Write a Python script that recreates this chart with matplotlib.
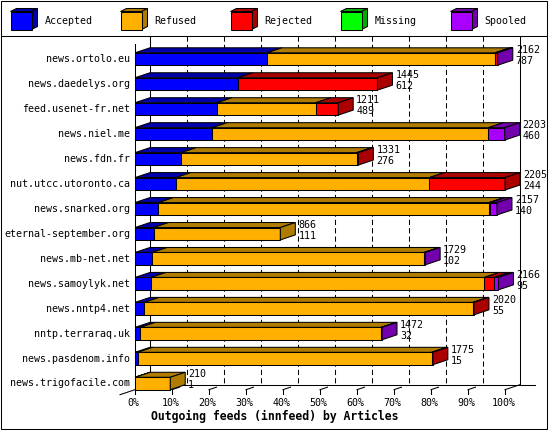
import matplotlib
matplotlib.use('Agg')
import matplotlib.pyplot as plt
from matplotlib.patches import Rectangle, Polygon

# innfeed outgoing feeds, articles per peer
hosts = ['news.ortolo.eu', 'news.daedelys.org', 'feed.usenet-fr.net', 'news.niel.me',
         'news.fdn.fr', 'nut.utcc.utoronto.ca', 'news.snarked.org', 'eternal-september.org',
         'news.mb-net.net', 'news.samoylyk.net', 'news.nntp4.net', 'nntp.terraraq.uk',
         'news.pasdenom.info', 'news.trigofacile.com']
offered = [2162, 1445, 1211, 2203, 1331, 2205, 2157, 866, 1729, 2166, 2020, 1472, 1775, 210]
accepted = [787, 612, 489, 460, 276, 244, 140, 111, 102, 95, 55, 32, 15, 1]
refused = [1358, 0, 588, 1646, 1045, 1510, 1970, 755, 1620, 1987, 1958, 1434, 1753, 209]
rejected = [10, 833, 134, 0, 10, 451, 8, 0, 0, 60, 7, 0, 7, 0]
missing = [0, 0, 0, 0, 0, 0, 0, 0, 0, 0, 0, 0, 0, 0]
spooled = [7, 0, 0, 97, 0, 0, 39, 0, 7, 24, 0, 6, 0, 0]

names = ['Accepted', 'Refused', 'Rejected', 'Missing', 'Spooled']
front = ['#0000FF', '#FFB000', '#FF0000', '#00FF00', '#AA00FF']
dark = ['#0000AA', '#B07C00', '#AA0000', '#00AA00', '#7300AD']
series = [accepted, refused, rejected, missing, spooled]
ticks = [0, 10, 20, 30, 40, 50, 60, 70, 80, 90, 100]

plt.rcParams['font.family'] = 'DejaVu Sans Mono'

# layout (pixels of the 550x430 picture)
W, H = 550, 430
X0, PX_PCT = 135, 3.7         # 0% position, pixels per percent
ROW0, ROW_PX = 59, 24.96      # first row centre, row pitch
DX = 15 / PX_PCT              # 3d depth
DY = 5 / ROW_PX
HH = 6.2 / ROW_PX             # half bar height
LW = 0.75
FS = 7.2

def ry(px):
    return (px - ROW0) / ROW_PX

fig = plt.figure(figsize=(W / 100, H / 100), dpi=100)

# frame + legend
fax = fig.add_axes([0, 0, 1, 1])
fax.set_xlim(0, W)
fax.set_ylim(H, 0)
fax.axis('off')
fax.add_patch(Rectangle((0.5, 0.5), 546, 428, fill=False, ec='black', lw=LW))
fax.plot([0.5, 546.5], [36, 36], color='black', lw=LW)
for i, nm in enumerate(names):
    x = 10.5 + 110 * i
    y0, bw, bh, d, e = 11.5, 21, 18, 6, 3
    fax.add_patch(Polygon([(x, y0), (x + bw, y0), (x + bw + d, y0 - e), (x + d, y0 - e)],
                          closed=True, fc=dark[i], ec='black', lw=LW))
    fax.add_patch(Polygon([(x + bw, y0), (x + bw + d, y0 - e), (x + bw + d, y0 + bh - e),
                           (x + bw, y0 + bh)], closed=True, fc=dark[i], ec='black', lw=LW))
    fax.add_patch(Rectangle((x, y0), bw, bh, fc=front[i], ec='black', lw=LW))
    fax.text(x + 34, 21, nm, fontsize=FS, ha='left', va='center')

fig.text(0.5, 1 - 416.5 / H, 'Outgoing feeds (innfeed) by Articles', fontsize=8.3,
         fontweight='bold', ha='center', va='center')

ax = fig.add_axes([0, 0, 1, 1])
ax.patch.set_visible(False)
ax.set_xlim(-X0 / PX_PCT, (W - X0) / PX_PCT)
ax.set_ylim(ry(H), ry(0))
ax.axis('off')

top = ry(36)
floor_f = len(hosts) - 1 + HH
floor_b = floor_f - DY

# walls, grid, floor
ax.plot([DX, DX], [top, floor_b], color='black', lw=LW, zorder=1)
ax.plot([100 + DX, 100 + DX], [top, floor_b], color='black', lw=LW, zorder=1)
for p in ticks[1:-1]:
    ax.plot([p + DX, p + DX], [top, floor_b], color='black', lw=LW,
            linestyle=(0, (5, 3)), zorder=1)
ax.plot([DX, 100 + 2 * DX], [floor_b, floor_b], color='black', lw=LW, zorder=1)
ax.plot([0, 0], [ry(44), floor_f], color='black', lw=LW, zorder=1)
ax.plot([0, -DX], [floor_f, floor_f + DY], color='black', lw=LW, zorder=1)
ax.plot([100, 100 + DX], [floor_f, floor_b], color='black', lw=LW, zorder=1)
for p in ticks:
    ax.plot([p, p], [floor_f, floor_f + 4 / ROW_PX], color='black', lw=LW, zorder=1)
    if 0 < p < 100:
        ax.plot([p, p + DX / 2], [floor_f, floor_f - DY / 2], color='black', lw=LW, zorder=1)
    ax.text(p - 0.4, ry(402.5), f'{p}%', fontsize=FS, ha='center', va='center')

scale = 100 / max(offered)
for r, host in enumerate(hosts):
    ax.text(-5 / PX_PCT, r, host, fontsize=FS, ha='right', va='center')
    cum = 0
    last = None
    for k, s in enumerate(series):
        v = s[r] * scale
        if v <= 0:
            continue
        x0, x1 = cum, cum + v
        ax.add_patch(Polygon([(x0, r - HH), (x1, r - HH), (x1 + DX, r - HH - DY),
                              (x0 + DX, r - HH - DY)], closed=True, fc=dark[k],
                             ec='black', lw=LW, zorder=2))
        ax.add_patch(Rectangle((x0, r - HH), v, 2 * HH, fc=front[k], ec='black',
                               lw=LW, zorder=3))
        cum = x1
        last = k
    ax.add_patch(Polygon([(cum, r - HH), (cum + DX, r - HH - DY), (cum + DX, r + HH - DY),
                          (cum, r + HH)], closed=True, fc=dark[last], ec='black',
                         lw=LW, zorder=3))
    xt = offered[r] * scale + DX + 3 / PX_PCT
    ax.text(xt, r - 0.36, str(offered[r]), fontsize=FS, ha='left', va='center', zorder=4)
    ax.text(xt, r + 0.08, str(accepted[r]), fontsize=FS, ha='left', va='center', zorder=4)

fig.savefig('out.png', dpi=100)
